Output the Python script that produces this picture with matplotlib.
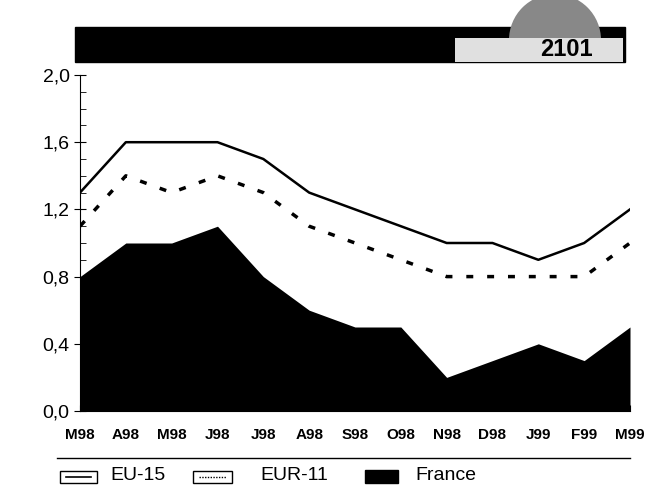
import matplotlib.pyplot as plt
import numpy as np
from matplotlib.patches import Rectangle, Wedge

plt.rcParams['font.family'] = ['Liberation Sans', 'DejaVu Sans']

months = ['M98', 'A98', 'M98', 'J98', 'J98', 'A98', 'S98', 'O98', 'N98', 'D98', 'J99', 'F99', 'M99']
eu15 = [1.3, 1.6, 1.6, 1.6, 1.5, 1.3, 1.2, 1.1, 1.0, 1.0, 0.9, 1.0, 1.2]
eur11 = [1.1, 1.4, 1.3, 1.4, 1.3, 1.1, 1.0, 0.9, 0.8, 0.8, 0.8, 0.8, 1.0]
france = [0.8, 1.0, 1.0, 1.1, 0.8, 0.6, 0.5, 0.5, 0.2, 0.3, 0.4, 0.3, 0.5]
yticks = [0.0, 0.4, 0.8, 1.2, 1.6, 2.0]
ylabels = ['0,0', '0,4', '0,8', '1,2', '1,6', '2,0']
legend_names = ['EU-15', 'EUR-11', 'France']
code = '2101'

fig = plt.figure(figsize=(6.61, 4.91), dpi=100)
ax = fig.add_axes([80/661, 1-411/491, 550/661, 336/491])

x = np.arange(len(months))
ax.fill_between(x, 0, france, color='black', lw=0)
ax.plot(x, eu15, color='black', lw=1.8)
ax.plot(x, eur11, color='black', lw=2.5, linestyle=(0, (2, 4)))

ax.set_xlim(0, len(months)-1)
ax.set_ylim(0, 2.0)
ax.set_yticks(yticks)
ax.set_yticklabels(ylabels, fontsize=14)
ax.set_yticks(np.arange(0, 2.01, 0.1), minor=True)
ax.tick_params(axis='y', which='major', direction='inout', length=8, width=0.8)
ax.tick_params(axis='y', which='minor', direction='in', length=4, width=0.6)
ax.set_xticks(x)
ax.set_xticklabels(months, fontsize=11, fontweight='bold')
ax.tick_params(axis='x', direction='in', length=4, pad=12)
for s in ['top', 'right']:
    ax.spines[s].set_visible(False)
ax.spines['left'].set_linewidth(0.8)

# header and legend decorations
ov = fig.add_axes([0, 0, 1, 1], zorder=-1)
ov.set_xlim(0, 661)
ov.set_ylim(491, 0)
ov.axis('off')
ov.add_patch(Rectangle((75, 27), 550, 35, color='black'))
plt.rcParams['hatch.color'] = 'white'
ov.add_patch(Wedge((555, 40), 46, 180, 360, facecolor='#888888', edgecolor='none', hatch='....'))
ov.add_patch(Rectangle((455, 38), 168, 24, facecolor='#e0e0e0', edgecolor='none'))
ov.text(566, 49, code, fontsize=17, fontweight='bold', ha='center', va='center')

ov.plot([57, 630], [458, 458], color='black', lw=1)
ov.add_patch(Rectangle((60, 471), 37, 12, facecolor='white', edgecolor='black', lw=1))
ov.plot([66, 91], [477, 477], color='black', lw=1.2)
ov.add_patch(Rectangle((193, 471), 39, 12, facecolor='white', edgecolor='black', lw=1))
ov.plot([199, 226], [477, 477], color='black', lw=1, linestyle=(0, (1, 1)))
ov.add_patch(Rectangle((365, 470), 33, 13, facecolor='black', edgecolor='black', lw=1))
ov.text(110, 476, legend_names[0], fontsize=14, va='center')
ov.text(260, 476, legend_names[1], fontsize=14, va='center')
ov.text(415, 476, legend_names[2], fontsize=14, va='center')

fig.savefig('out.png', dpi=100)
